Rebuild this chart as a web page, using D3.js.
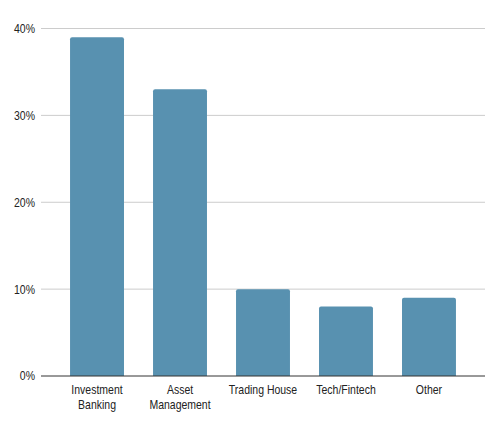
<!DOCTYPE html>
<html lang="en">
<head>
    <meta charset="UTF-8">
    <title>Sector chart</title>
    <script src="https://d3js.org/d3.v7.min.js"></script>
    <style>
        body { margin: 0; background: #fff; }
        text { font-family: "Liberation Sans", Arial, sans-serif; }
    </style>
</head>
<body>

<svg id="svg-container" width="500" height="433"></svg>
<script>

    const categories = [["Investment", "Banking"], ["Asset", "Management"], ["Trading House"], ["Tech/Fintech"], ["Other"]];
    const shares = [39, 33, 10, 8, 9];
    const yTicks = [0, 10, 20, 30, 40];

    window.onload = function () {

        const svg = d3.select("#svg-container");
        const left = 41, right = 485, top = 28.5, bottom = 376;
        const squeeze = 0.84; // the original font is narrower than Liberation Sans

        const x = d3.scaleBand()
            .domain(d3.range(categories.length))
            .range([left, right])
            .paddingInner(0.35)
            .paddingOuter(0.35);

        const y = d3.scaleLinear()
            .domain([0, 40])
            .range([bottom, top]);

        // gridlines
        svg.append("g")
            .selectAll("line")
            .data(yTicks.filter(d => d > 0))
            .enter()
            .append("line")
            .attr("x1", left)
            .attr("x2", right)
            .attr("y1", d => y(d))
            .attr("y2", d => y(d))
            .attr("stroke", "#cccccc")
            .attr("stroke-width", 1);

        // y labels
        svg.append("g")
            .selectAll("text")
            .data(yTicks)
            .enter()
            .append("text")
            .attr("transform", d => `translate(${left - 6},${y(d)}) scale(${squeeze},1)`)
            .attr("dy", "0.35em")
            .attr("text-anchor", "end")
            .style("font-size", "12.5px")
            .style("fill", "#222")
            .text(d => d + "%");

        // bars with rounded top corners
        const r = 2;
        svg.append("g")
            .selectAll("path")
            .data(shares)
            .enter()
            .append("path")
            .attr("d", (d, i) => {
                const x0 = x(i), x1 = x(i) + x.bandwidth(), y0 = y(d), y1 = y(0);
                return `M${x0},${y1}V${y0 + r}Q${x0},${y0} ${x0 + r},${y0}H${x1 - r}Q${x1},${y0} ${x1},${y0 + r}V${y1}Z`;
            })
            .attr("fill", "#5891b0");

        // baseline
        svg.append("line")
            .attr("x1", left)
            .attr("x2", right)
            .attr("y1", bottom)
            .attr("y2", bottom)
            .attr("stroke", "#333")
            .attr("stroke-width", 1);

        // category labels
        const labels = svg.append("g")
            .selectAll("text")
            .data(categories)
            .enter()
            .append("text")
            .attr("transform", (d, i) => `translate(${x(i) + x.bandwidth() / 2},394) scale(${squeeze},1)`)
            .attr("text-anchor", "middle")
            .style("font-size", "12.5px")
            .style("fill", "#222");

        labels.selectAll("tspan")
            .data(d => d)
            .enter()
            .append("tspan")
            .attr("x", 0)
            .attr("dy", (d, i) => i === 0 ? 0 : 15)
            .text(d => d);
    }

</script>

</body>
</html>
